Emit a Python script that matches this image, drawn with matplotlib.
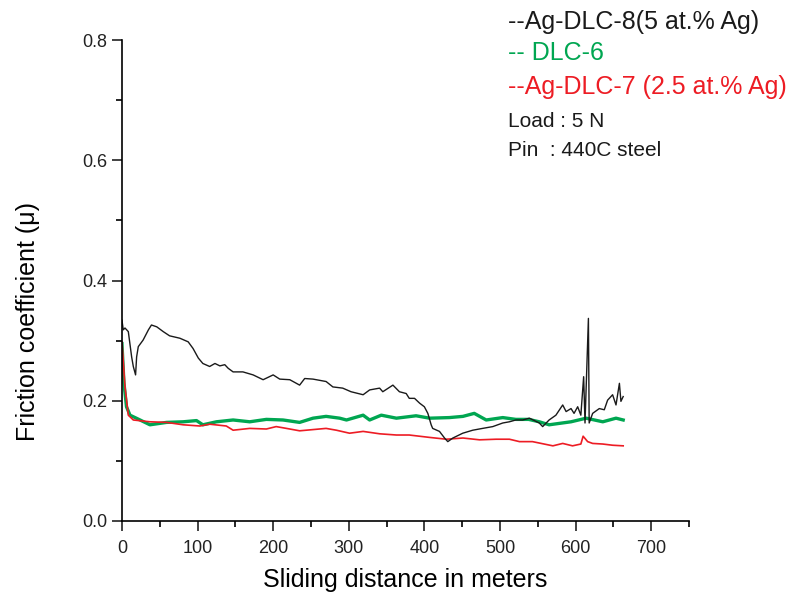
import matplotlib
matplotlib.use("Agg")
import matplotlib.pyplot as plt
from matplotlib.ticker import MultipleLocator

plt.rcParams["font.family"] = ["Liberation Sans", "DejaVu Sans"]

# Ag-DLC-8 (5 at.% Ag), black
dist_ag8 = [0, 1.7, 4, 8.4, 12.8, 15, 18, 19.4, 21.6, 28, 35, 39, 46, 54.6, 63, 76.6,
            87.6, 94, 101, 107, 116, 123, 129.5, 136, 140.5, 147, 160, 173.5, 186.7,
            200, 208.7, 222, 235, 241.7, 252.7, 270, 279, 292, 303, 319, 327.6, 340.8,
            345, 358.4, 367, 376, 380, 387, 393.7, 400, 404.6, 409, 411, 420, 426.7,
            431, 437.7, 450.8, 464, 477, 490.5, 503.7, 512.5, 521, 530, 539, 552,
            556.5, 565, 574, 583, 587.5, 594, 598, 602.8, 607, 610.7, 612.5, 617,
            618, 622.6, 631.4, 638, 642.4, 649, 653.5, 658, 660, 663]
mu_ag8 = [0.334, 0.318, 0.321, 0.315, 0.273, 0.257, 0.243, 0.273, 0.29, 0.301, 0.318,
          0.326, 0.323, 0.315, 0.308, 0.304, 0.298, 0.287, 0.271, 0.262, 0.257, 0.262,
          0.258, 0.26, 0.254, 0.248, 0.248, 0.243, 0.235, 0.243, 0.236, 0.235, 0.226,
          0.237, 0.236, 0.232, 0.223, 0.221, 0.215, 0.21, 0.218, 0.221, 0.215, 0.226,
          0.215, 0.212, 0.204, 0.204, 0.196, 0.19, 0.179, 0.16, 0.154, 0.149, 0.138,
          0.132, 0.138, 0.146, 0.151, 0.154, 0.157, 0.163, 0.165, 0.168, 0.168, 0.171,
          0.163, 0.157, 0.168, 0.176, 0.193, 0.182, 0.187, 0.179, 0.19, 0.176, 0.24,
          0.163, 0.337, 0.163, 0.179, 0.187, 0.185, 0.201, 0.21, 0.193, 0.229, 0.199,
          0.207]

# DLC-6, green
dist_dlc6 = [0, 2.6, 6, 10.6, 19, 37, 59, 81, 98.6, 107, 125, 147, 169, 191, 213, 235,
             252.7, 270, 288, 297, 319, 327.6, 343, 363, 389, 407, 433, 451, 466,
             481.8, 503.7, 521, 538, 552, 565, 594, 614, 636, 653.5, 663]
mu_dlc6 = [0.295, 0.23, 0.19, 0.176, 0.171, 0.16, 0.164, 0.165, 0.167, 0.16, 0.165,
           0.168, 0.165, 0.169, 0.168, 0.164, 0.171, 0.174, 0.171, 0.168, 0.176,
           0.168, 0.176, 0.171, 0.175, 0.171, 0.172, 0.174, 0.179, 0.168, 0.172,
           0.169, 0.169, 0.165, 0.16, 0.165, 0.171, 0.165, 0.171, 0.168]

# Ag-DLC-7 (2.5 at.% Ag), red
dist_ag7 = [0, 4, 8.4, 15, 37, 59, 81, 103, 116, 138, 147, 169, 191, 204, 217.6, 235,
            270, 283.6, 301, 319, 341, 363, 380, 407, 429, 451, 473, 495, 512.5,
            525.8, 543, 570, 583, 596, 607, 610, 616, 622.6, 636, 649, 663]
mu_ag7 = [0.298, 0.223, 0.176, 0.168, 0.165, 0.164, 0.16, 0.158, 0.161, 0.158, 0.151,
          0.154, 0.153, 0.157, 0.154, 0.15, 0.154, 0.151, 0.146, 0.149, 0.145, 0.143,
          0.143, 0.139, 0.136, 0.138, 0.135, 0.136, 0.136, 0.132, 0.132, 0.125,
          0.129, 0.125, 0.128, 0.141, 0.132, 0.129, 0.128, 0.126, 0.125]

fig = plt.figure(figsize=(7.93, 5.98), dpi=100)
ax = fig.add_axes([0.1538, 0.1288, 0.7150, 0.8042])

ax.plot(dist_dlc6, mu_dlc6, color="#00a651", linewidth=2.4)
ax.plot(dist_ag7, mu_ag7, color="#ed1c24", linewidth=1.2)
ax.plot(dist_ag8, mu_ag8, color="#1a1a1a", linewidth=1.0)

ax.set_xlim(0, 750)
ax.set_ylim(0, 0.8)
ax.xaxis.set_minor_locator(MultipleLocator(50))
ax.yaxis.set_major_locator(MultipleLocator(0.2))
ax.yaxis.set_minor_locator(MultipleLocator(0.1))
ax.set_xticks(range(0, 701, 100))
ax.yaxis.set_major_formatter(plt.FuncFormatter(lambda v, p: f"{v:.1f}"))
ax.spines["top"].set_visible(False)
ax.spines["right"].set_visible(False)
for s in ("left", "bottom"):
    ax.spines[s].set_linewidth(1.2)
ax.tick_params(which="major", direction="out", length=7, width=1.2,
               labelsize=13, colors="#222222")
ax.tick_params(axis="x", which="major", pad=7)
ax.tick_params(which="minor", direction="out", length=4.5, width=1.2)

ax.set_xlabel("Sliding distance in meters", fontsize=18, va="center")
ax.set_ylabel("Friction coefficient (\u03bc)", fontsize=18, va="center")
ax.xaxis.set_label_coords(0.5, -0.1227)
ax.yaxis.set_label_coords(-0.166, 0.414)

fig.text(0.641, 0.964, "--Ag-DLC-8(5 at.% Ag)", fontsize=18, color="#1a1a1a", va="center")
fig.text(0.641, 0.911, "-- DLC-6", fontsize=18, color="#00a651", va="center")
fig.text(0.640, 0.855, "--Ag-DLC-7 (2.5 at.% Ag)", fontsize=18, color="#ed1c24", va="center")
fig.text(0.641, 0.796, "Load : 5 N", fontsize=15, color="#1a1a1a", va="center")
fig.text(0.641, 0.749, "Pin  : 440C steel", fontsize=15, color="#1a1a1a", va="center")

fig.savefig("out.png", dpi=100)
